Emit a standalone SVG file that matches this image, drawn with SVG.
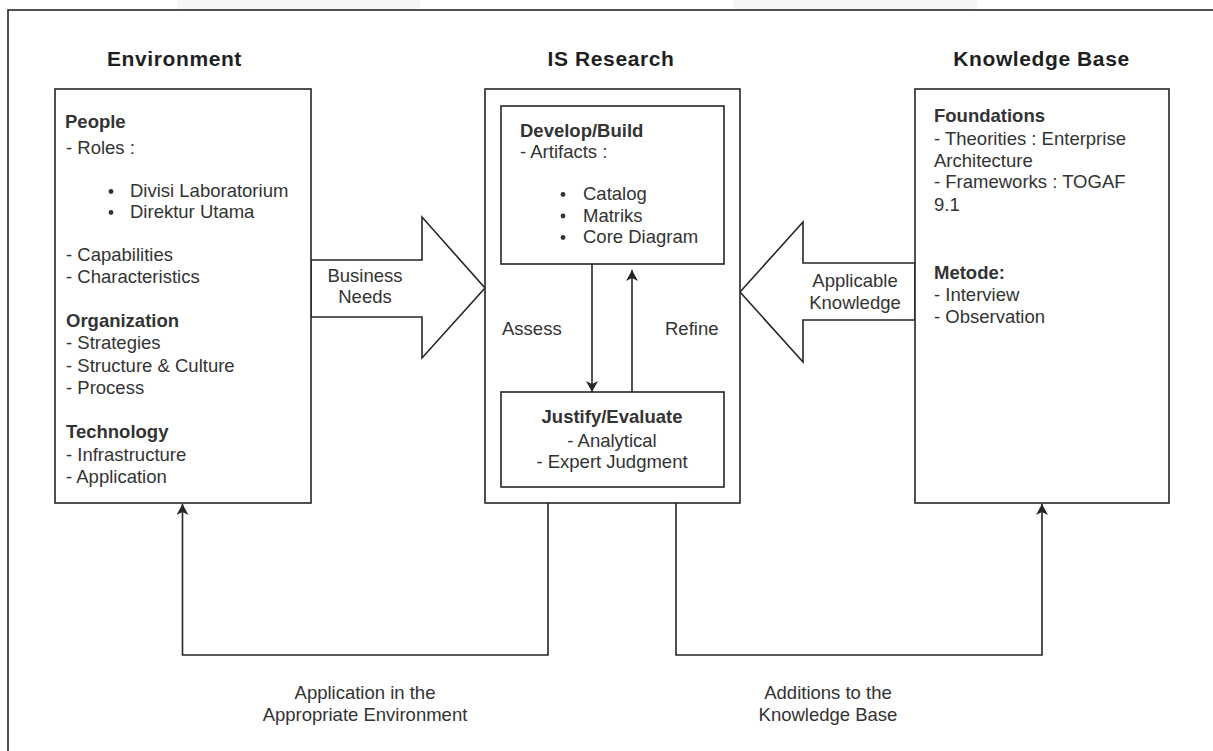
<svg xmlns="http://www.w3.org/2000/svg" width="1213" height="751" viewBox="0 0 1213 751">
<defs>
<style>
.t{font-family:"Liberation Sans",Arial,sans-serif;font-size:18.5px;fill:#333}
.b{font-weight:bold}
.h{font-family:"Liberation Sans",Arial,sans-serif;font-size:21px;font-weight:bold;fill:#1f1f1f;letter-spacing:0.6px}
.c{text-anchor:middle}
.box{fill:#fff;stroke:#262626;stroke-width:1.6}
.ln{fill:none;stroke:#262626;stroke-width:1.6}
.dot{fill:#333}
</style>
<marker id="ah" markerUnits="userSpaceOnUse" markerWidth="12" markerHeight="12" refX="11" refY="6" orient="auto">
<path d="M0,0 L11,6 L0,12 L3,6 z" fill="#262626"/>
</marker>
</defs>
<rect width="1213" height="751" fill="#fff"/>
<path d="M177,0 H420 V5 Q420,9 416,9 H181 Q177,9 177,5 Z" fill="#f6f6f6"/>
<path d="M733,0 H977 V5 Q977,9 973,9 H737 Q733,9 733,5 Z" fill="#f6f6f6"/>
<rect x="8" y="10" width="1300" height="900" fill="none" stroke="#262626" stroke-width="1.6"/>

<g id="titles">
<text class="h c" x="174.5" y="66">Environment</text>
<text class="h c" x="611" y="66">IS Research</text>
<text class="h c" x="1041.5" y="66">Knowledge Base</text>
</g>

<g id="business-needs">
<polygon class="box" points="311,260 422,260 422,217 485,288 422,358 422,317 311,317"/>
<text class="t c" x="365" y="282">Business</text>
<text class="t c" x="365" y="303">Needs</text>
</g>

<g id="applicable-knowledge">
<polygon class="box" points="915,263 803,263 803,222 740,292 803,362 803,320 915,320"/>
<text class="t c" x="855" y="287">Applicable</text>
<text class="t c" x="855" y="309">Knowledge</text>
</g>

<g id="environment">
<rect class="box" x="55" y="89" width="256" height="414"/>
<text class="t b" x="65" y="128">People</text>
<text class="t" x="66" y="154">- Roles :</text>
<circle class="dot" cx="111" cy="191.5" r="2.4"/>
<text class="t" x="130" y="197">Divisi Laboratorium</text>
<circle class="dot" cx="111" cy="212.5" r="2.4"/>
<text class="t" x="130" y="218">Direktur Utama</text>
<text class="t" x="66" y="261">- Capabilities</text>
<text class="t" x="66" y="283">- Characteristics</text>
<text class="t b" x="66" y="327">Organization</text>
<text class="t" x="66" y="349">- Strategies</text>
<text class="t" x="66" y="372">- Structure &amp; Culture</text>
<text class="t" x="66" y="394">- Process</text>
<text class="t b" x="66" y="438">Technology</text>
<text class="t" x="66" y="461">- Infrastructure</text>
<text class="t" x="66" y="483">- Application</text>
</g>

<g id="is-research">
<rect class="box" x="485" y="89" width="255" height="414"/>
</g>

<g id="develop-build">
<rect class="box" x="501" y="106" width="223" height="158"/>
<text class="t b" x="520" y="137">Develop/Build</text>
<text class="t" x="520" y="158">- Artifacts :</text>
<circle class="dot" cx="563" cy="194.5" r="2.4"/>
<text class="t" x="583" y="200">Catalog</text>
<circle class="dot" cx="563" cy="216" r="2.4"/>
<text class="t" x="583" y="221.5">Matriks</text>
<circle class="dot" cx="563" cy="237.5" r="2.4"/>
<text class="t" x="583" y="243">Core Diagram</text>
</g>

<g id="justify-evaluate">
<rect class="box" x="501" y="392" width="223" height="95"/>
<text class="t b c" x="612" y="423">Justify/Evaluate</text>
<text class="t c" x="612" y="447">- Analytical</text>
<text class="t c" x="612" y="468">- Expert Judgment</text>
</g>

<g id="knowledge-base">
<rect class="box" x="915" y="89" width="254" height="414"/>
<text class="t b" x="934" y="122">Foundations</text>
<text class="t" x="934" y="145">- Theorities : Enterprise</text>
<text class="t" x="934" y="167">Architecture</text>
<text class="t" x="934" y="188">- Frameworks : TOGAF</text>
<text class="t" x="934" y="211">9.1</text>
<text class="t b" x="934" y="279">Metode:</text>
<text class="t" x="934" y="301">- Interview</text>
<text class="t" x="934" y="323">- Observation</text>
</g>

<g id="connectors">
<path class="ln" d="M592,264 V392" marker-end="url(#ah)"/>
<path class="ln" d="M632,392 V270" marker-end="url(#ah)"/>
<path class="ln" d="M548,503 V655 H182.5 V504" marker-end="url(#ah)"/>
<path class="ln" d="M676,503 V655 H1042 V504" marker-end="url(#ah)"/>
<text class="t" x="502" y="335">Assess</text>
<text class="t" x="665" y="335">Refine</text>
<text class="t c" x="365" y="699">Application in the</text>
<text class="t c" x="365" y="721">Appropriate Environment</text>
<text class="t c" x="828" y="699">Additions to the</text>
<text class="t c" x="828" y="721">Knowledge Base</text>
</g>
</svg>
